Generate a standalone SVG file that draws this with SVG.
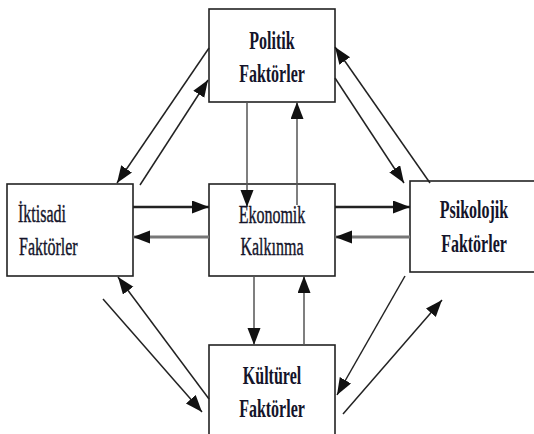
<svg xmlns="http://www.w3.org/2000/svg" width="534" height="434" viewBox="0 0 534 434">
<style>
.box{fill:#fff;stroke:#222;stroke-width:1.6}
.t{font-family:"Liberation Serif","Times New Roman",serif;font-size:16px;fill:#14142a;stroke:#14142a;stroke-width:0.25}
.b{font-weight:bold;stroke-width:0}
.c{text-anchor:middle}
.ln{stroke:#222;stroke-width:1.5;fill:none}
.v{stroke:#555;stroke-width:1.5;fill:none}
.h1{stroke:#222;stroke-width:2.6;fill:none}
.h2{stroke:#777;stroke-width:3.2;fill:none}
</style>
<defs>
<marker id="ah" markerUnits="userSpaceOnUse" markerWidth="18" markerHeight="14" refX="17" refY="6.5" orient="auto" viewBox="0 0 18 14">
<path d="M0,0 L17,6.5 L0,13 z" fill="#111"/>
</marker>
</defs>
<rect width="534" height="434" fill="#fff"/>
<g id="node-politik">
<rect class="box" x="209" y="9" width="126" height="93"/>
<text class="t b c" transform="translate(272,49) scale(1,1.6)">Politik</text>
<text class="t b c" transform="translate(272,82) scale(1,1.6)">Faktörler</text>
</g>
<g id="node-iktisadi">
<rect class="box" x="7" y="184" width="126" height="92"/>
<text class="t" transform="translate(18,222) scale(1,1.6)">İktisadi</text>
<text class="t" transform="translate(19,255) scale(1,1.6)">Faktörler</text>
</g>
<g id="node-ekonomik">
<rect class="box" x="209" y="184" width="126" height="92"/>
</g>
<g id="node-psikolojik">
<rect class="box" x="410" y="181" width="130" height="91"/>
<text class="t b c" transform="translate(474,218) scale(1,1.6)">Psikolojik</text>
<text class="t b c" transform="translate(474,252) scale(1,1.6)">Faktörler</text>
</g>
<g id="node-kulturel">
<rect class="box" x="209" y="345" width="126" height="100"/>
<text class="t b c" transform="translate(272,384) scale(1,1.6)">Kültürel</text>
<text class="t b c" transform="translate(272,417) scale(1,1.6)">Faktörler</text>
</g>
<g id="connectors">
<line class="h1" x1="133" y1="207" x2="209" y2="207" marker-end="url(#ah)"/>
<line class="h2" x1="209" y1="237" x2="133" y2="237" marker-end="url(#ah)"/>
<line class="h1" x1="335" y1="207" x2="410" y2="207" marker-end="url(#ah)"/>
<line class="h2" x1="410" y1="237" x2="335" y2="237" marker-end="url(#ah)"/>
<line class="v" x1="247" y1="102" x2="247" y2="207" marker-end="url(#ah)"/>
<line class="v" x1="297" y1="205" x2="297" y2="102" marker-end="url(#ah)"/>
<line class="v" x1="254" y1="276" x2="254" y2="345" marker-end="url(#ah)"/>
<line class="v" x1="304" y1="345" x2="304" y2="276" marker-end="url(#ah)"/>
<line class="ln" x1="209" y1="48" x2="117" y2="183" marker-end="url(#ah)"/>
<line class="ln" x1="140" y1="185" x2="208" y2="80" marker-end="url(#ah)"/>
<line class="ln" x1="335" y1="78" x2="404" y2="183" marker-end="url(#ah)"/>
<line class="ln" x1="430" y1="183" x2="335" y2="47" marker-end="url(#ah)"/>
<line class="ln" x1="209" y1="399" x2="118" y2="277" marker-end="url(#ah)"/>
<line class="ln" x1="103" y1="299" x2="202" y2="412" marker-end="url(#ah)"/>
<line class="ln" x1="405" y1="276" x2="337" y2="395" marker-end="url(#ah)"/>
<line class="ln" x1="343" y1="414" x2="442" y2="300" marker-end="url(#ah)"/>
</g>
<g id="label-ekonomik">
<text class="t c" transform="translate(272,223) scale(1,1.6)">Ekonomik</text>
<text class="t c" transform="translate(272,255) scale(1,1.6)">Kalkınma</text>
</g>
</svg>
